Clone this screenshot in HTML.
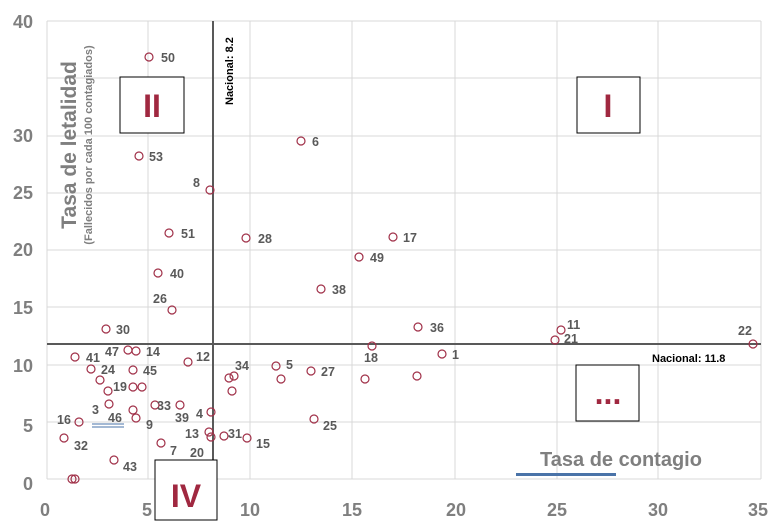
<!DOCTYPE html><html><head><meta charset="utf-8"><style>
html,body{margin:0;padding:0;background:#fff;}
svg{display:block;font-family:"Liberation Sans",sans-serif;}
.t{font-size:18px;font-weight:bold;fill:#7f7f7f;}
.l{font-size:12.5px;font-weight:bold;fill:#595959;}
.p{fill:none;stroke:#a03048;stroke-width:1.2;}
</style></head><body>
<svg width="779" height="531" viewBox="0 0 779 531">
<g stroke="#d9d9d9" stroke-width="1">
<line x1="47" y1="21" x2="761" y2="21"/><line x1="47" y1="78" x2="761" y2="78"/><line x1="47" y1="136" x2="761" y2="136"/><line x1="47" y1="193" x2="761" y2="193"/><line x1="47" y1="250" x2="761" y2="250"/><line x1="47" y1="307" x2="761" y2="307"/><line x1="47" y1="365" x2="761" y2="365"/><line x1="47" y1="422" x2="761" y2="422"/><line x1="47" y1="479" x2="761" y2="479"/>
<line x1="47" y1="21" x2="47" y2="479"/><line x1="148" y1="21" x2="148" y2="479"/><line x1="250" y1="21" x2="250" y2="479"/><line x1="352" y1="21" x2="352" y2="479"/><line x1="455" y1="21" x2="455" y2="479"/><line x1="557" y1="21" x2="557" y2="479"/><line x1="658" y1="21" x2="658" y2="479"/><line x1="761" y1="21" x2="761" y2="479"/>
</g>
<line x1="213" y1="21" x2="213" y2="479" stroke="#595959" stroke-width="2"/>
<line x1="47" y1="344" x2="761" y2="344" stroke="#595959" stroke-width="2"/>
<g class="t" text-anchor="end">
<text x="33" y="28">40</text><text x="33" y="142">30</text><text x="33" y="199">25</text><text x="33" y="256">20</text><text x="33" y="314">15</text><text x="33" y="372">10</text><text x="33" y="432">5</text><text x="33" y="490">0</text>
</g>
<g class="t" text-anchor="middle">
<text x="45" y="516">0</text><text x="147" y="516">5</text><text x="250" y="516">10</text><text x="352" y="516">15</text><text x="456" y="516">20</text><text x="557" y="516">25</text><text x="658" y="516">30</text><text x="758" y="516">35</text>
</g>
<text transform="translate(76,145) rotate(-90)" text-anchor="middle" font-size="21" font-weight="bold" fill="#7f7f7f">Tasa de letalidad</text>
<text transform="translate(92,145) rotate(-90)" text-anchor="middle" font-size="11" font-weight="bold" fill="#7f7f7f">(Fallecidos por cada 100 contagiados)</text>
<text x="621" y="466" text-anchor="middle" font-size="20" font-weight="bold" fill="#7f7f7f">Tasa de contagio</text>
<rect x="516" y="473" width="100" height="3" fill="#4a73a8"/>
<text transform="translate(233,105) rotate(-90)" font-size="11" font-weight="bold" fill="#000">Nacional: 8.2</text>
<text x="652" y="362" font-size="11" font-weight="bold" fill="#000">Nacional: 11.8</text>
<g fill="#fff" stroke="#000" stroke-width="1">
<rect x="120" y="77" width="64" height="56"/><rect x="577" y="77" width="63" height="56"/><rect x="576" y="365" width="63" height="56"/><rect x="155" y="460" width="62" height="60"/>
</g>
<g fill="#a02840" font-weight="bold" text-anchor="middle" font-size="32">
<text x="152" y="117">II</text><text x="608" y="117">I</text><text x="608" y="404">...</text><text x="186" y="507">IV</text>
</g>
<g class="p">
<circle cx="149" cy="57" r="4"/><circle cx="139" cy="156" r="4"/><circle cx="210" cy="190" r="4"/><circle cx="301" cy="141" r="4"/><circle cx="169" cy="233" r="4"/><circle cx="246" cy="238" r="4"/><circle cx="393" cy="237" r="4"/><circle cx="359" cy="257" r="4"/><circle cx="158" cy="273" r="4"/><circle cx="321" cy="289" r="4"/><circle cx="172" cy="310" r="4"/><circle cx="106" cy="329" r="4"/><circle cx="418" cy="327" r="4"/><circle cx="561" cy="330" r="4"/><circle cx="555" cy="340" r="4"/><circle cx="753" cy="344" r="4"/><circle cx="372" cy="346" r="4"/><circle cx="442" cy="354" r="4"/>
<circle cx="75" cy="357" r="4"/><circle cx="128" cy="350" r="4"/><circle cx="136" cy="351" r="4"/><circle cx="188" cy="362" r="4"/><circle cx="229" cy="378" r="4"/><circle cx="234" cy="376" r="4"/><circle cx="276" cy="366" r="4"/><circle cx="281" cy="379" r="4"/><circle cx="311" cy="371" r="4"/><circle cx="365" cy="379" r="4"/><circle cx="417" cy="376" r="4"/><circle cx="232" cy="391" r="4"/>
<circle cx="91" cy="369" r="4"/><circle cx="133" cy="370" r="4"/><circle cx="100" cy="380" r="4"/><circle cx="108" cy="391" r="4"/><circle cx="133" cy="387" r="4"/><circle cx="142" cy="387" r="4"/><circle cx="109" cy="404" r="4"/><circle cx="133" cy="410" r="4"/><circle cx="155" cy="405" r="4"/><circle cx="180" cy="405" r="4"/><circle cx="211" cy="412" r="4"/><circle cx="79" cy="422" r="4"/><circle cx="136" cy="418" r="4"/><circle cx="314" cy="419" r="4"/><circle cx="209" cy="432" r="4"/><circle cx="211" cy="437" r="4"/><circle cx="224" cy="436" r="4"/><circle cx="247" cy="438" r="4"/><circle cx="64" cy="438" r="4"/><circle cx="161" cy="443" r="4"/><circle cx="114" cy="460" r="4"/><circle cx="72" cy="479" r="4"/><circle cx="75" cy="479" r="4"/>
</g>
<g class="l">
<text x="161" y="62">50</text><text x="149" y="161">53</text><text x="193" y="187">8</text><text x="312" y="146">6</text><text x="181" y="238">51</text><text x="258" y="243">28</text><text x="403" y="242">17</text><text x="370" y="262">49</text><text x="170" y="278">40</text><text x="332" y="294">38</text><text x="153" y="303">26</text><text x="116" y="334">30</text><text x="430" y="332">36</text><text x="567" y="329">11</text><text x="564" y="343">21</text><text x="738" y="335">22</text><text x="364" y="362">18</text><text x="452" y="359">1</text>
<text x="86" y="362">41</text><text x="105" y="356">47</text><text x="146" y="356">14</text><text x="196" y="361">12</text><text x="235" y="370">34</text><text x="286" y="369">5</text><text x="321" y="376">27</text><text x="101" y="374">24</text><text x="143" y="375">45</text><text x="113" y="391">19</text><text x="92" y="414">3</text><text x="157" y="410">33</text><text x="108" y="422">46</text><text x="175" y="422">39</text><text x="196" y="418">4</text><text x="57" y="424">16</text><text x="146" y="429">9</text><text x="323" y="430">25</text><text x="185" y="438">13</text><text x="228" y="438">31</text><text x="256" y="448">15</text><text x="74" y="450">32</text><text x="170" y="455">7</text><text x="190" y="457">20</text><text x="123" y="471">43</text>
</g>
<g stroke="#4a73a8" stroke-width="1"><line x1="92" y1="424" x2="124" y2="424"/><line x1="92" y1="427" x2="124" y2="427"/></g>
</svg>
</body></html>
